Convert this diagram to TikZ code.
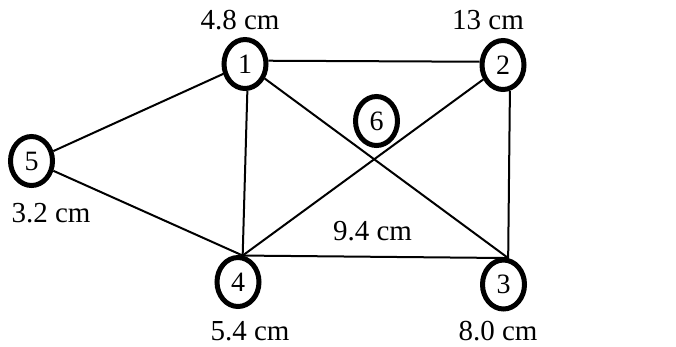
\documentclass[tikz,border=0pt]{standalone}
\usepackage{fontspec}
\setmainfont{Liberation Serif}
\usetikzlibrary{shapes.geometric}
\begin{document}
\begin{tikzpicture}[x=1pt,y=-1pt,
  vert/.style={draw, ellipse, line width=5pt, minimum width=42pt, minimum height=49pt, inner sep=0pt, font=\fontsize{28}{32}\selectfont},
  lbl/.style={font=\fontsize{29}{34}\selectfont, inner sep=0pt},
  edge/.style={line width=2pt}]
\useasboundingbox (0,0) rectangle (676,346);
\node[vert] (n1) at (245,64) {1};
\node[vert] (n2) at (503,65) {2};
\node[vert] (n3) at (503.5,284.5) {3};
\node[vert] (n4) at (238,282) {4};
\node[vert] (n5) at (31.5,161) {5};
\node[vert] (n6) at (376.5,121) {6};
\coordinate (t4) at (n4.80);
\coordinate (t3) at (n3.80);
\node[lbl] (l1) at (240,20) {4.8 cm};
\node[lbl] (l2) at (488,20) {13 cm};
\node[lbl] (l5) at (51,213) {3.2 cm};
\node[lbl] (l4) at (250,331) {5.4 cm};
\node[lbl] (l3) at (498,331) {8.0 cm};
\node[lbl] (l6) at (372.5,231) {9.4 cm};
\draw[edge] (n1.8) -- (n2.172);
\draw[edge] (n1) -- (n5);
\draw[edge] (n5) -- (t4);
\draw[edge] (n1.-85) -- (t4);
\draw[edge] (n1) -- (t3);
\draw[edge] (n2) -- (t4);
\draw[edge] (n2.-75) -- (t3);
\draw[edge] (t4) -- (t3);
\end{tikzpicture}
\end{document}
